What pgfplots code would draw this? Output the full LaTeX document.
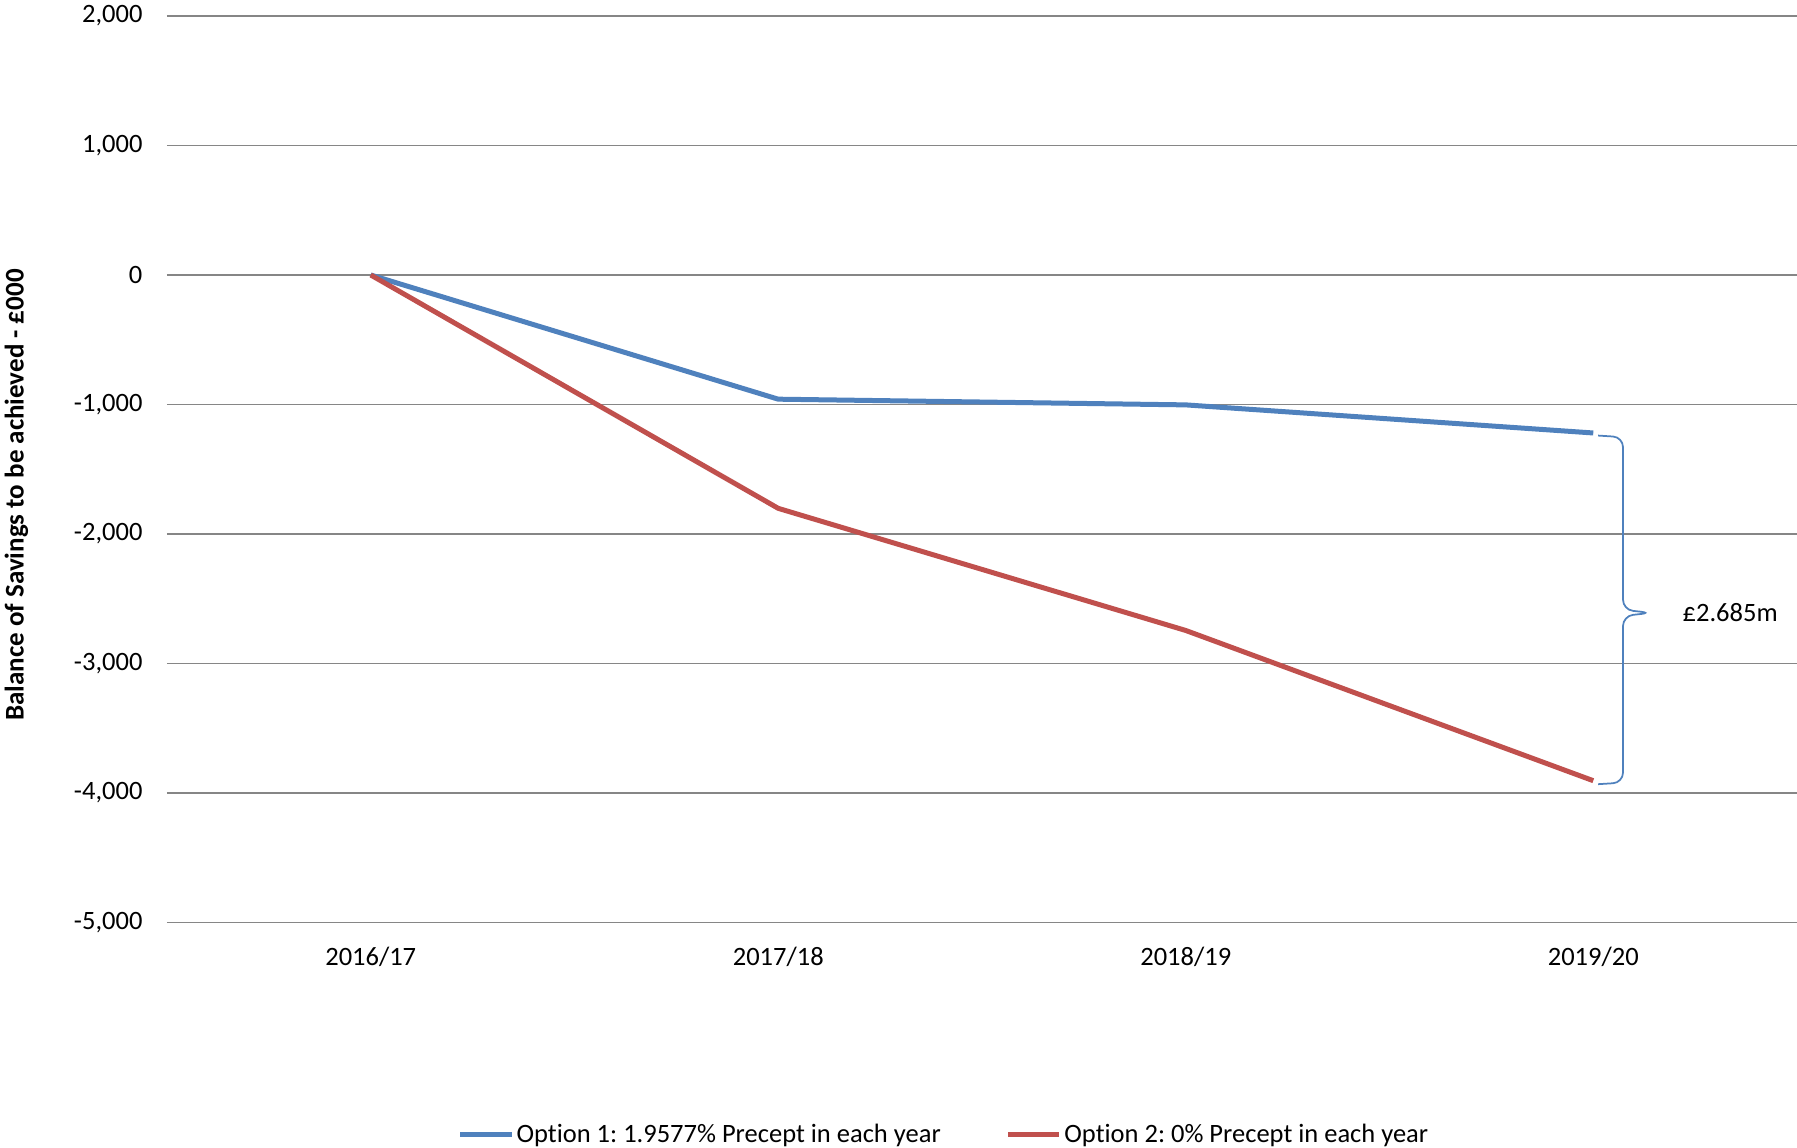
\documentclass[border=0pt]{standalone}
\usepackage{pgfplots}
\pgfplotsset{compat=1.18}
\usepackage{fontspec}
\setmainfont{Carlito}[Ligatures=NoCommon]
\frenchspacing
\definecolor{xblue}{RGB}{79,129,189}
\definecolor{xred}{RGB}{192,80,77}
\definecolor{xgrid}{RGB}{134,134,134}
\begin{document}
\begin{tikzpicture}
\path[use as bounding box] (0,0) rectangle (718.8pt,459.2pt);
\begin{axis}[
  at={(66.8pt,90.2pt)}, anchor=south west,
  scale only axis, width=652pt, height=362.6pt,
  xmin=-0.5, xmax=3.5, ymin=-5000, ymax=2000,
  xtick={0,1,2,3}, xticklabels={2016/17,2017/18,2018/19,2019/20},
  ytick={-5000,-4000,...,2000},
  axis line style={draw=none},
  major tick length=0pt,
  ymajorgrids, grid style={xgrid, line width=0.7pt},
  /pgf/number format/assume math mode=true,
  /pgf/number format/1000 sep={,},
  tick label style={font=\fontsize{10.6}{12.7}\selectfont},
  yticklabel style={anchor=east, xshift=-6.3pt},
  xticklabel style={yshift=-6.2pt},
  clip=false,
  legend columns=2,
  legend style={draw=none, fill=none, at={(0.4776,-0.2344)}, anchor=center,
    font=\fontsize{10.6}{12.7}\selectfont,
    /tikz/every even column/.append style={column sep=24pt},
    inner sep=0pt},
  legend image code/.code={\draw[#1, line width=2pt] (0pt,0pt) -- (20.5pt,0pt);},
]
\addplot[xblue, line width=2pt] coordinates {(0,0) (1,-959) (2,-1003) (3,-1220)};
\addlegendentry{\hspace{-1pt}Option 1: 1.9577\% Precept in each year}
\addplot[xred, line width=2pt] coordinates {(0,0) (1,-1802) (2,-2745) (3,-3905)};
\addlegendentry{\hspace{-1pt}Option 2: 0\% Precept in each year}
\draw[xblue, line width=0.7pt, rounded corners=4pt]
  (axis cs:3.012,-1240) -- (axis cs:3.073,-1252) -- (axis cs:3.073,-2585)
  -- (axis cs:3.142,-2609) -- (axis cs:3.073,-2633) -- (axis cs:3.073,-3920)
  -- (axis cs:3.012,-3932);
\node[font=\fontsize{10.6}{12.7}\selectfont] at (axis cs:3.336,-2609) {£2.685m};
\end{axis}
\node[rotate=90, font=\fontsize{10.8}{13}\selectfont\bfseries] at (6.6pt,261.2pt) {Balance of Savings to be achieved - £000};
\end{tikzpicture}
\end{document}
